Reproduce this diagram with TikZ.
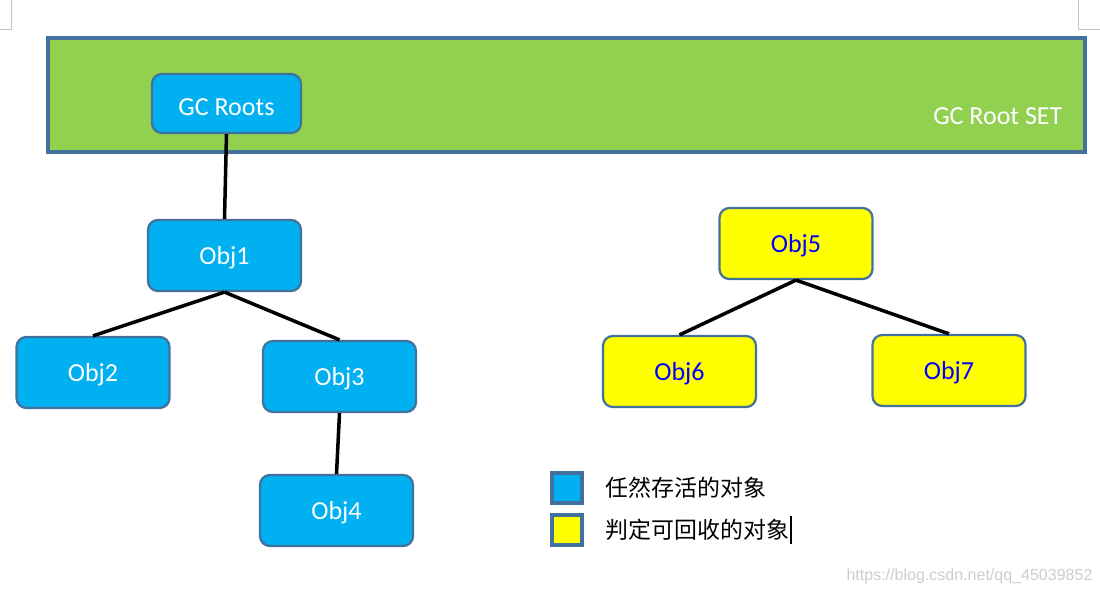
\documentclass[tikz,border=0pt]{standalone}
\usepackage{fontspec}
\setmainfont{Carlito}
\newfontfamily\cjk{Noto Sans CJK SC}
\newfontfamily\wmfont{Liberation Sans}
\usetikzlibrary{positioning,calc}
\definecolor{livefill}{RGB}{0,176,240}
\definecolor{deadfill}{RGB}{255,255,0}
\definecolor{setfill}{RGB}{146,208,80}
\definecolor{objborder}{RGB}{65,113,156}
\definecolor{deadtext}{RGB}{0,0,255}
\definecolor{markcol}{RGB}{195,195,195}
\definecolor{wmcol}{RGB}{205,205,205}

\begin{document}
\begin{tikzpicture}[
  font=\fontsize{18.5}{22}\selectfont,
  block/.style={
    draw=objborder,
    rounded corners=7pt,
    line width=1.6pt,
    minimum width=3.825cm,
    minimum height=1.775cm,
    text depth=0pt,
    inner sep=2pt
  },
  live/.style={block, fill=livefill, text=white},
  dead/.style={block, fill=deadfill, text=deadtext},
  rootset/.style={
    draw=objborder,
    fill=setfill,
    line width=2.4pt,
    minimum width=25.925cm,
    minimum height=2.85cm,
    inner sep=0pt
  },
  link/.style={line width=2.5pt, black},
  keybox/.style={draw=objborder, line width=2.2pt, minimum size=0.75cm, inner sep=0pt},
  keytext/.style={font=\cjk\fontsize{16.3}{20}\selectfont, inner sep=0pt, anchor=west},
  pagemark/.style={draw=markcol, line width=0.6pt}
]
\useasboundingbox (0,0) rectangle (27.5,-14.85);

% ========== Root set band ==========
\node[rootset] (band) at (14.1625,-2.375) {};
\node[text=white, inner sep=0pt, anchor=east] (setlbl) at ($(band.east)+(-0.6,-0.525)$) {GC Root SET};
\node[live, minimum width=3.725cm, minimum height=1.475cm, text height=17pt] (root) at (5.6625,-2.5875) {GC Roots};

% ========== Reachable objects ==========
\node[live] (obj1) at (5.6125,-6.3875) {Obj1};
\node[live] (obj2) at (2.325,-9.3125) {Obj2};
\node[live] (obj3) at (8.4875,-9.4125) {Obj3};
\node[live] (obj4) at (8.4125,-12.7625) {Obj4};

\draw[link] (root.south) -- (obj1.north);
\draw[link] (obj1.south) -- (obj2.north);
\draw[link] (obj1.south) -- (obj3.north);
\draw[link] (obj3.south) -- (obj4.north);

% ========== Unreachable objects ==========
\node[dead] (obj5) at (19.9,-6.0875) {Obj5};
\node[dead] (obj6) at (16.9875,-9.2875) {Obj6};
\node[dead] (obj7) at (23.725,-9.2625) {Obj7};

\draw[link] (obj5.south) -- (obj6.north);
\draw[link] (obj5.south) -- (obj7.north);

% ========== Legend ==========
\node[keybox, fill=livefill] (key1) at (14.175,-12.2) {};
\node[keybox, fill=deadfill] (key2) at (14.175,-13.25) {};
\node[keytext, right=0.55cm of key1] (key1txt) {任然存活的对象};
\node[keytext, right=0.55cm of key2] (key2txt) {判定可回收的对象};
\draw[line width=1.1pt] ($(key2txt.east)+(0.04,0.36)$) -- ($(key2txt.east)+(0.04,-0.36)$);

% ========== Page marks and watermark ==========
\draw[pagemark] (0.275,0) -- (0.275,-0.725) -- (0,-0.725);
\draw[pagemark] (26.95,0) -- (26.95,-0.725) -- (27.5,-0.725);
\node[font=\wmfont\fontsize{11.4}{13}\selectfont, text=wmcol, inner sep=0pt] (wm) at (24.2375,-14.4) {https://blog.csdn.net/qq\_45039852};

\end{tikzpicture}
\end{document}
